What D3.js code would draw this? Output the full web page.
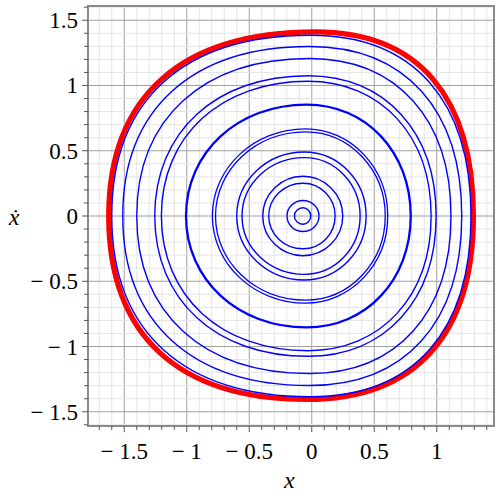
<!DOCTYPE html>
<html>
<head>
<meta charset="UTF-8">
<style>
  body { margin: 0; background: #fff; }
</style>
</head>
<body>
<script src="https://cdnjs.cloudflare.com/ajax/libs/d3/7.8.5/d3.min.js"></script>
<script>
// tick labels
var xTicks = [-1.5, -1, -0.5, 0, 0.5, 1];
var yTicks = [-1.5, -1, -0.5, 0, 0.5, 1, 1.5];

// blue orbits, inner to outer: extremes
var orbitLeft   = [-0.139, -0.198, -0.344, -0.392, -0.558, -0.600, -0.795, -0.770, -1.006, -1.203, -1.256, -1.400, -1.512, -1.600];
var orbitRight  = [-0.008,  0.058,  0.187,  0.248,  0.387,  0.435,  0.608,  0.588,  0.792,  0.955,  0.995,  1.114,  1.200,  1.274];
var orbitTop    = [ 0.063,  0.119,  0.251,  0.304,  0.447,  0.490,  0.668,  0.645,  0.854,  1.032,  1.075,  1.207,  1.299,  1.385];
var orbitBottom = [-0.063, -0.119, -0.251, -0.304, -0.447, -0.490, -0.668, -0.645, -0.854, -1.032, -1.075, -1.207, -1.299, -1.385];
var orbitApex   = [-0.07, -0.07, -0.07, -0.07, -0.06, -0.06, -0.05, -0.05, -0.04, -0.03, -0.03, -0.02, -0.02, -0.01];
var orbitWidth  = [1.4, 1.4, 1.4, 1.4, 1.4, 1.4, 1.3, 1.3, 2.3, 1.4, 1.4, 1.4, 1.4, 1.4];

// red limit cycle: top, right, bottom, left
var redX = [0.03, 1.293, -0.04, -1.624];
var redY = [1.41, 0, -1.405, 0];

var margin = {top: 6, right: 6, bottom: 74, left: 88},
    width = 500 - margin.left - margin.right,
    height = 500 - margin.top - margin.bottom;

var x = d3.scaleLinear().domain([-1.79, 1.458]).range([0, width]);
var y = d3.scaleLinear().domain([-1.609, 1.609]).range([height, 0]);

var svg = d3.select("body").append("svg")
    .attr("width", 500)
    .attr("height", 500)
  .append("g")
    .attr("transform", "translate(" + margin.left + "," + margin.top + ")");

function steps(lo, hi) {
  var out = [];
  for (var i = Math.ceil(lo * 10); i <= Math.floor(hi * 10); i++) out.push(i / 10);
  return out;
}
function isMajor(v) { return Math.abs(v * 2 - Math.round(v * 2)) < 1e-6; }

var xs = steps(-1.79, 1.458), ys = steps(-1.609, 1.609);

// grid
svg.append("g").selectAll("line").data(xs).enter().append("line")
    .attr("x1", function(d) { return x(d); }).attr("x2", function(d) { return x(d); })
    .attr("y1", 0).attr("y2", height)
    .attr("stroke", function(d) { return isMajor(d) ? "#a0a0a0" : "#e4e4e4"; })
    .attr("stroke-width", 1);
svg.append("g").selectAll("line").data(ys).enter().append("line")
    .attr("y1", function(d) { return y(d); }).attr("y2", function(d) { return y(d); })
    .attr("x1", 0).attr("x2", width)
    .attr("stroke", function(d) { return isMajor(d) ? "#a0a0a0" : "#e4e4e4"; })
    .attr("stroke-width", 1);

// frame
svg.append("rect")
    .attr("width", width).attr("height", height)
    .attr("fill", "none").attr("stroke", "#8a8a8a").attr("stroke-width", 2);

// ticks
svg.append("g").selectAll("line").data(xs).enter().append("line")
    .attr("x1", function(d) { return x(d); }).attr("x2", function(d) { return x(d); })
    .attr("y1", height).attr("y2", function(d) { return height + (isMajor(d) ? 6 : 4); })
    .attr("stroke", "#555").attr("stroke-width", 1);
svg.append("g").selectAll("line").data(ys).enter().append("line")
    .attr("y1", function(d) { return y(d); }).attr("y2", function(d) { return y(d); })
    .attr("x1", 0).attr("x2", function(d) { return isMajor(d) ? -6 : -4; })
    .attr("stroke", "#555").attr("stroke-width", 1);

function fmt(v) {
  var s = String(Math.abs(v));
  return v < 0 ? "\u2212 " + s : s;
}

svg.append("g").selectAll("text").data(xTicks).enter().append("text")
    .attr("x", function(d) { return x(d); })
    .attr("y", height + 33)
    .attr("text-anchor", "middle")
    .attr("font-size", 23)
    .style("font-family", "Liberation Serif")
    .text(fmt);
svg.append("g").selectAll("text").data(yTicks).enter().append("text")
    .attr("x", -10)
    .attr("y", function(d) { return y(d) + 8; })
    .attr("text-anchor", "end")
    .attr("font-size", 23)
    .style("font-family", "Liberation Serif")
    .text(fmt);

// axis labels
svg.append("text")
    .attr("x", x(-0.18)).attr("y", height + 62)
    .attr("text-anchor", "middle")
    .attr("font-size", 24).attr("font-style", "italic")
    .style("font-family", "Liberation Serif")
    .text("x");
svg.append("text")
    .attr("x", -74).attr("y", y(0) + 9)
    .attr("text-anchor", "middle")
    .attr("font-size", 24).attr("font-style", "italic")
    .style("font-family", "Liberation Serif")
    .text("\u1E8B");

// closed loop from its four extreme points, one cubic per quadrant;
// c sets how square the quadrants are (0.5523 = ellipse)
function loop(top, right, bottom, left, c) {
  var p = d3.path();
  p.moveTo(x(top[0]), y(top[1]));
  p.bezierCurveTo(x(top[0] + c * (right[0] - top[0])), y(top[1]),
                  x(right[0]), y(c * top[1]),
                  x(right[0]), y(right[1]));
  p.bezierCurveTo(x(right[0]), y(c * bottom[1]),
                  x(bottom[0] + c * (right[0] - bottom[0])), y(bottom[1]),
                  x(bottom[0]), y(bottom[1]));
  p.bezierCurveTo(x(bottom[0] + c * (left[0] - bottom[0])), y(bottom[1]),
                  x(left[0]), y(c * bottom[1]),
                  x(left[0]), y(left[1]));
  p.bezierCurveTo(x(left[0]), y(c * top[1]),
                  x(top[0] + c * (left[0] - top[0])), y(top[1]),
                  x(top[0]), y(top[1]));
  p.closePath();
  return p.toString();
}

// red limit cycle
svg.append("path")
    .attr("fill", "none")
    .attr("stroke", "#ff0000")
    .attr("stroke-width", 5.3)
    .attr("d", loop([redX[0], redY[0]], [redX[1], redY[1]], [redX[2], redY[2]], [redX[3], redY[3]], 0.65));

// blue orbits: the outer ones get squarer, like the red cycle
svg.append("g").selectAll("path").data(orbitLeft).enter().append("path")
    .attr("fill", "none")
    .attr("stroke", "#0000ff")
    .attr("stroke-width", function(d, i) { return orbitWidth[i]; })
    .attr("d", function(l, i) {
      var s = Math.max(0, Math.min(1, (orbitTop[i] - 0.7) / 0.7));
      return loop([orbitApex[i], orbitTop[i]], [orbitRight[i], 0],
                  [orbitApex[i], orbitBottom[i]], [l, 0], 0.5523 + 0.09 * s);
    });
</script>
</body>
</html>
